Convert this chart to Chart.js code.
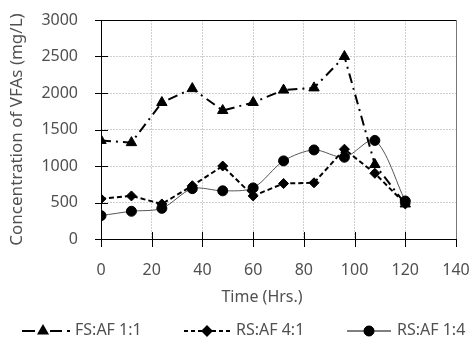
<!DOCTYPE html>
<html lang="en">
<head>
<meta charset="UTF-8">
<title>Concentration of VFAs</title>
<script src="https://cdn.jsdelivr.net/npm/chart.js"></script>
<style>
    html, body { margin: 0; padding: 0; background: #fff; }
    #wrap { width: 470px; height: 339px; }
</style>
</head>
<body>
<div id="wrap"><canvas id="vfaChart" width="470" height="339"></canvas></div>
<script>
    // hours of sampling
    const hours = [0, 12, 24, 36, 48, 60, 72, 84, 96, 108, 120];
    // VFAs in mg/L for each ratio
    const fsAf11 = [1350, 1320, 1870, 2060, 1760, 1870, 2040, 2070, 2500, 1020, 480];
    const rsAf41 = [550, 590, 480, 730, 1000, 590, 760, 770, 1230, 900, 480];
    const rsAf14 = [320, 380, 420, 690, 660, 700, 1070, 1220, 1120, 1350, 520];
    const seriesNames = ['FS:AF 1:1', 'RS:AF 4:1', 'RS:AF 1:4'];
    const xTicks = [0, 20, 40, 60, 80, 100, 120, 140];
    const yTicks = [0, 500, 1000, 1500, 2000, 2500, 3000];

    const textColor = '#505050';
    const fontFamily = '"Noto Sans", sans-serif';

    function pts(ys) {
        return hours.map((h, i) => ({ x: h, y: ys[i] }));
    }

    const styles = [
        { dash: [10, 5, 2, 5], width: 2, color: '#000', point: 'triangle', r: 6, tension: 0 },
        { dash: [5, 3], width: 2, color: '#000', point: 'rectRot', r: 5, tension: 0 },
        { dash: [], width: 1, color: '#555', point: 'circle', r: 5, tension: 0.3 }
    ];

    const datasets = [fsAf11, rsAf41, rsAf14].map((ys, i) => ({
        label: seriesNames[i],
        data: pts(ys),
        borderColor: styles[i].color,
        borderWidth: styles[i].width,
        borderDash: styles[i].dash,
        pointStyle: styles[i].point,
        pointRadius: styles[i].r,
        pointBackgroundColor: '#000',
        pointBorderColor: '#000',
        pointBorderWidth: 1,
        tension: styles[i].tension,
        fill: false
    }));

    function mark(ctx, style, r, x, y) {
        Chart.helpers.drawPoint(ctx, { pointStyle: style, radius: r, borderWidth: 1, rotation: 0 }, x, y);
        ctx.fillStyle = '#000';
        ctx.fill();
    }

    function seg(ctx, x0, x1, y, dash, w) {
        ctx.lineWidth = w;
        ctx.setLineDash(dash);
        ctx.beginPath();
        ctx.moveTo(x0, y); ctx.lineTo(x1, y);
        ctx.stroke();
        ctx.setLineDash([]);
    }

    // axis lines, frame, crossing tick marks, x title and the legend row
    const framePlugin = {
        id: 'frame',
        afterDraw(chart) {
            const ctx = chart.ctx;
            const a = chart.chartArea;
            const xs = chart.scales.x, ys = chart.scales.y;
            ctx.save();
            ctx.setLineDash([]);
            ctx.lineWidth = 1;
            ctx.strokeStyle = '#000';
            ctx.beginPath();
            ctx.moveTo(a.left, a.top + 0.5); ctx.lineTo(a.right, a.top + 0.5);
            ctx.moveTo(a.left + 0.5, a.top); ctx.lineTo(a.left + 0.5, a.bottom);
            ctx.moveTo(a.left, a.bottom + 0.5); ctx.lineTo(a.right, a.bottom + 0.5);
            xTicks.forEach(v => {
                const px = Math.round(xs.getPixelForValue(v)) + 0.5;
                ctx.moveTo(px, a.bottom - 7); ctx.lineTo(px, a.bottom + 8);
            });
            yTicks.forEach(v => {
                const py = Math.round(ys.getPixelForValue(v)) + 0.5;
                ctx.moveTo(a.left - 6, py); ctx.lineTo(a.left + 7, py);
            });
            ctx.stroke();
            ctx.strokeStyle = '#777';
            ctx.beginPath();
            ctx.moveTo(a.right + 0.5, a.top); ctx.lineTo(a.right + 0.5, a.bottom);
            ctx.stroke();

            ctx.fillStyle = textColor;
            ctx.font = '16px ' + fontFamily;
            ctx.textBaseline = 'middle';
            ctx.textAlign = 'center';
            ctx.fillText('Time (Hrs.)', 262, 297);

            // legend
            const ly = 331;
            ctx.strokeStyle = '#000';
            seg(ctx, 22, 35, ly, [], 2);
            mark(ctx, 'triangle', 5, 43, ly);
            seg(ctx, 50, 62, ly, [], 2);
            seg(ctx, 67, 70, ly, [], 2);

            seg(ctx, 184, 231, ly, [4, 3], 2);
            mark(ctx, 'rectRot', 4.5, 207, ly);

            seg(ctx, 347, 391, ly, [], 1);
            mark(ctx, 'circle', 5, 369, ly);

            ctx.fillStyle = textColor;
            ctx.font = '16px ' + fontFamily;
            ctx.textAlign = 'left';
            ctx.fillText(seriesNames[0], 75, ly - 1);
            ctx.fillText(seriesNames[1], 236, ly - 1);
            ctx.fillText(seriesNames[2], 397, ly - 1);
            ctx.restore();
        }
    };

    new Chart(document.getElementById('vfaChart'), {
        type: 'line',
        data: { datasets },
        options: {
            responsive: false,
            animation: false,
            layout: { padding: { top: 20, right: 14, bottom: 0, left: 0 } },
            plugins: { legend: { display: false }, tooltip: { enabled: false } },
            scales: {
                x: {
                    type: 'linear',
                    min: 0, max: 140,
                    afterBuildTicks: s => { s.ticks = xTicks.map(v => ({ value: v })); },
                    afterFit: s => { s.height = 100; s.paddingLeft = 0; s.paddingRight = 0; },
                    grid: { color: '#cfcfcf', drawTicks: false },
                    border: { display: false, dash: [2, 1] },
                    ticks: {
                        color: textColor, padding: 22, font: { size: 16, family: fontFamily },
                        callback: v => String(v)
                    }
                },
                y: {
                    min: 0, max: 3000,
                    afterBuildTicks: s => { s.ticks = yTicks.map(v => ({ value: v })); },
                    afterFit: s => { s.width = 101; s.paddingTop = 0; s.paddingBottom = 0; },
                    grid: { color: '#cfcfcf', drawTicks: false },
                    border: { display: false, dash: [2, 1] },
                    ticks: {
                        color: textColor, padding: 23, font: { size: 16, family: fontFamily },
                        callback: v => String(v)
                    },
                    title: {
                        display: true, text: 'Concentration of VFAs (mg/L)', color: textColor,
                        font: { size: 17, family: fontFamily }, padding: { top: 7, bottom: 0 }
                    }
                }
            }
        },
        plugins: [framePlugin]
    });
</script>
</body>
</html>
